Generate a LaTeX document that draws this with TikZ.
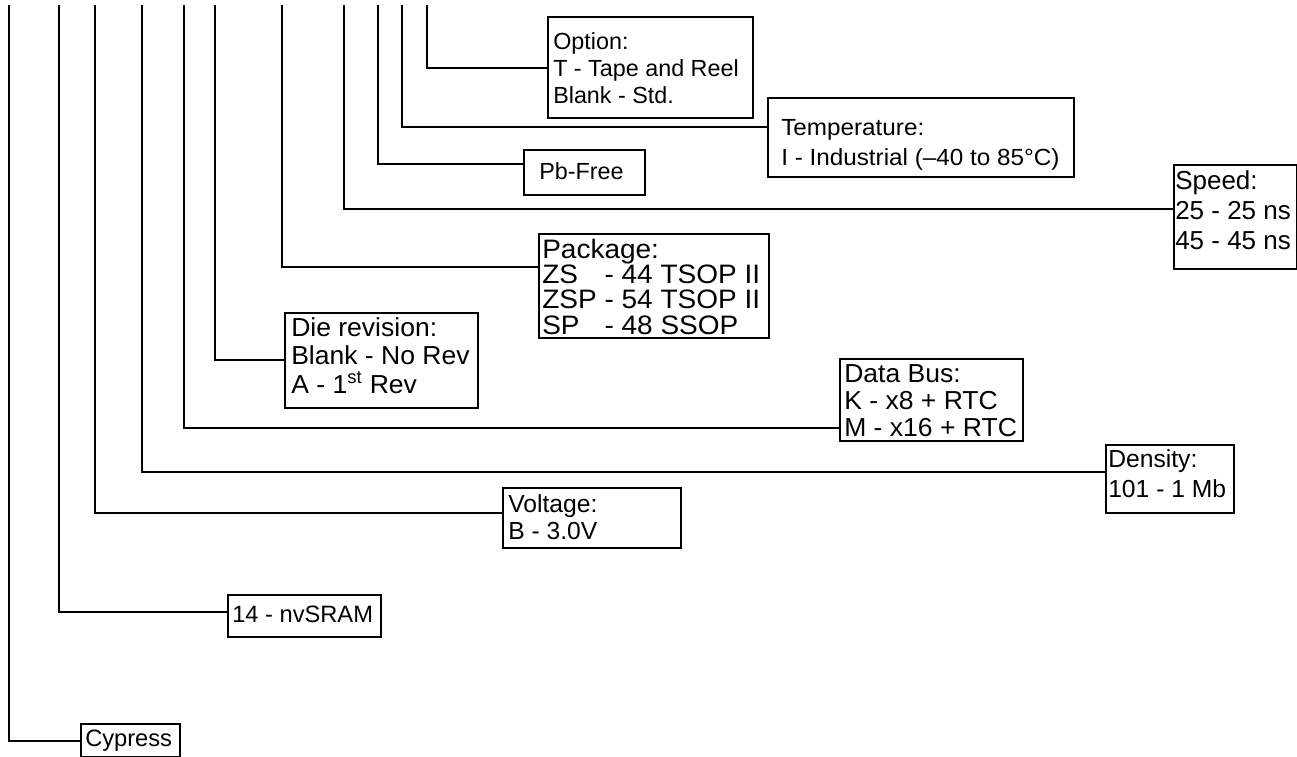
\documentclass[tikz,border=0pt]{standalone}
\usepackage{fontspec}
\setmainfont{Liberation Sans}
% box: name, x1, y1, x2, y2 (pixels)
\newcommand\pnbox[5]{\node[pbox,minimum width={(#4-#2)*0.75pt},minimum height={(#5-#3)*0.75pt}] (#1) at (#2,#3) {};}
% text: name, x, first baseline y (pixels), font size, line skip, xscale, text
\newcommand\pntext[7]{\node[ptxt,xscale=#6,font=\fontsize{#4}{#5}\selectfont] (#1) at (#2,#3) {#7};}
\newcommand\zsp[1]{\leavevmode\rlap{#1}\phantom{ZSP}}
\begin{document}
\begin{tikzpicture}[x=0.75pt,y=-0.75pt,
  conn/.style={line width=1.5pt},
  pbox/.style={draw,line width=1.5pt,anchor=north west,inner sep=0pt},
  ptxt/.style={anchor=base west,inner sep=0pt,align=flush left,text width=10cm,transform shape}]
\useasboundingbox (0,0) rectangle (1297,757);

\pnbox{opt}{547}{16}{752}{117}
\pntext{optT}{553}{49}{17.5pt}{20.6pt}{1}{Option:\\T - Tape and Reel\\Blank - Std.}
\pnbox{temp}{767}{97}{1073}{176}
\pntext{tempT}{781}{135}{17.5pt}{22.5pt}{1.04}{Temperature:\\I - Industrial (–40 to 85°C)}
\pnbox{pb}{523}{149}{644}{194}
\pntext{pbT}{539}{179}{17.5pt}{21pt}{1}{Pb-Free}
\pnbox{spd}{1173}{164}{1296}{268}
\pntext{spdT}{1175}{189}{19.5pt}{22.5pt}{1}{Speed:\\25 - 25 ns\\45 - 45 ns}
\pnbox{pkg}{538}{233}{768}{337}
\pntext{pkgT}{542}{258}{20pt}{19pt}{1.05}{Package:\\\zsp{ZS} - 44 TSOP II\\ZSP - 54 TSOP II\\\zsp{SP} - 48 SSOP}
\pnbox{die}{284}{312}{477}{407}
\pntext{dieT}{291}{336}{19.5pt}{21.4pt}{1.02}{Die revision:\\Blank - No Rev\\A - 1\textsuperscript{st} Rev}
\pnbox{bus}{839}{358}{1022}{440}
\pntext{busT}{844}{382}{19.5pt}{20.25pt}{1.02}{Data Bus:\\K - x8 + RTC\\M - x16 + RTC}
\pnbox{den}{1105}{444}{1233}{512}
\pntext{denT}{1108}{467}{18.5pt}{22.5pt}{1}{Density:\\101 - 1 Mb}
\pnbox{volt}{502}{487}{680}{547}
\pntext{voltT}{508}{512}{18.5pt}{20.25pt}{1}{Voltage:\\B - 3.0V}
\pnbox{nv}{227}{594}{380}{636}
\pntext{nvT}{232}{622}{17.75pt}{21pt}{1}{14 - nvSRAM}
\pnbox{cy}{80}{723}{179}{756}
\pntext{cyT}{85}{746}{17.75pt}{21pt}{1}{Cypress}

\coordinate (t1) at (9,5);    \coordinate (h1) at (0,741);
\coordinate (t2) at (59,5);   \coordinate (h2) at (0,612);
\coordinate (t3) at (95,5);   \coordinate (h3) at (0,513);
\coordinate (t4) at (142,5);  \coordinate (h4) at (0,472);
\coordinate (t5) at (184,5);  \coordinate (h5) at (0,428);
\coordinate (t6) at (215,5);  \coordinate (h6) at (0,360);
\coordinate (t7) at (282,5);  \coordinate (h7) at (0,267);
\coordinate (t8) at (344,5);  \coordinate (h8) at (0,209);
\coordinate (t9) at (378,5);  \coordinate (h9) at (0,164);
\coordinate (t10) at (402,5); \coordinate (h10) at (0,127);
\coordinate (t11) at (427,5); \coordinate (h11) at (0,68);

\draw[conn] (t1) |- (cy.west |- h1);
\draw[conn] (t2) |- (nv.west |- h2);
\draw[conn] (t3) |- (volt.west |- h3);
\draw[conn] (t4) |- (den.west |- h4);
\draw[conn] (t5) |- (bus.west |- h5);
\draw[conn] (t6) |- (die.west |- h6);
\draw[conn] (t7) |- (pkg.west |- h7);
\draw[conn] (t8) |- (spd.west |- h8);
\draw[conn] (t9) |- (pb.west |- h9);
\draw[conn] (t10) |- (temp.west |- h10);
\draw[conn] (t11) |- (opt.west |- h11);
\end{tikzpicture}
\end{document}
